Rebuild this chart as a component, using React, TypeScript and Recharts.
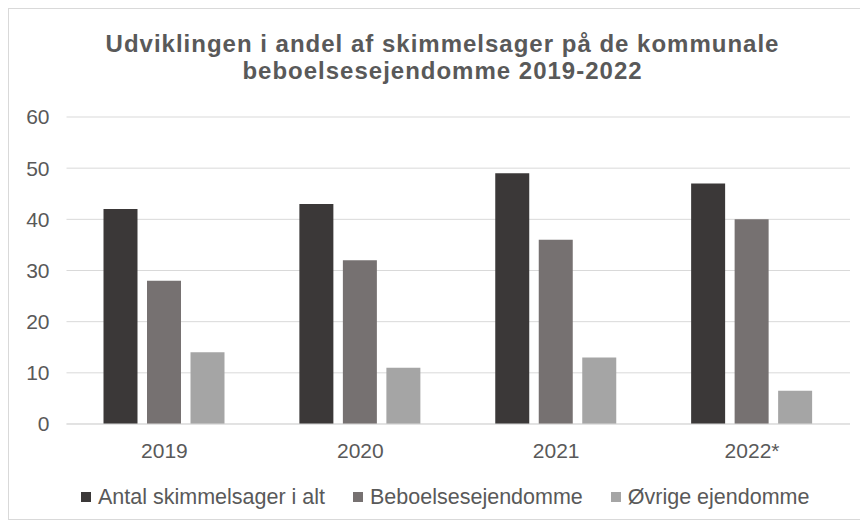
import React from "react";
import { BarChart, Bar, XAxis, YAxis, CartesianGrid, Legend } from "recharts";

const categories = ["2019", "2020", "2021", "2022*"];
const antalAlt = [42, 43, 49, 47];
const beboelse = [28, 32, 36, 40];
const oevrige = [14, 11, 13, 6.5];
const yTicks = [0, 10, 20, 30, 40, 50, 60];
const seriesNames = ["Antal skimmelsager i alt", "Beboelsesejendomme", "Øvrige ejendomme"];
const seriesColors = ["#3b3838", "#767171", "#a5a5a5"];
const titleLines = [
  "Udviklingen i andel af skimmelsager på de kommunale",
  "beboelsesejendomme 2019-2022",
];

const data = categories.map((c, i) => ({
  name: c,
  a: antalAlt[i],
  b: beboelse[i],
  c: oevrige[i],
}));

const FONT = "'Liberation Sans', Arial, sans-serif";
const TEXT = "#595959";

const LegendContent = () => (
  <div style={{ display: "flex", alignItems: "center", fontFamily: FONT, fontSize: 21.5, color: TEXT, lineHeight: "24px" }}>
    {seriesNames.map((n, i) => (
      <div key={n} style={{ display: "flex", alignItems: "center", marginRight: i < 2 ? 28 : 0 }}>
        <div style={{ width: 10, height: 10, background: seriesColors[i], marginRight: 7 }} />
        <span>{n}</span>
      </div>
    ))}
  </div>
);

export default function App() {
  return (
    <div
      style={{
        position: "relative",
        width: 855,
        height: 510,
        border: "1px solid #d9d9d9",
        background: "#fff",
      }}
    >
      <BarChart
        width={855}
        height={510}
        data={data}
        margin={{ top: 108, right: 14, bottom: 41, left: 0 }}
        barSize={34}
        barGap={9.5}
      >
        <CartesianGrid vertical={false} stroke="#d9d9d9" />
        <XAxis
          dataKey="name"
          height={30}
          tickLine={false}
          tickSize={0}
          tickMargin={19}
          axisLine={{ stroke: "#d9d9d9" }}
          tick={{ fill: TEXT, fontSize: 21, fontFamily: FONT }}
        />
        <YAxis
          width={57.5}
          domain={[0, 60]}
          ticks={yTicks}
          axisLine={false}
          tickLine={false}
          tickSize={0}
          tickMargin={17}
          tick={{ fill: TEXT, fontSize: 21, fontFamily: FONT }}
        />
        <Legend
          content={<LegendContent />}
          wrapperStyle={{ position: "absolute", left: 72, top: 476, width: "auto" }}
        />
        <Bar dataKey="a" name={seriesNames[0]} fill={seriesColors[0]} isAnimationActive={false} />
        <Bar dataKey="b" name={seriesNames[1]} fill={seriesColors[1]} isAnimationActive={false} />
        <Bar dataKey="c" name={seriesNames[2]} fill={seriesColors[2]} isAnimationActive={false} />
      </BarChart>
      <svg
        width={855}
        height={100}
        style={{ position: "absolute", left: 0, top: 0, pointerEvents: "none" }}
      >
        {titleLines.map((t, i) => (
          <text
            key={i}
            x={433.5}
            y={43 + i * 27}
            textAnchor="middle"
            fill={TEXT}
            fontFamily={FONT}
            fontWeight="bold"
            fontSize={24}
            letterSpacing={1}
          >
            {t}
          </text>
        ))}
      </svg>
    </div>
  );
}
